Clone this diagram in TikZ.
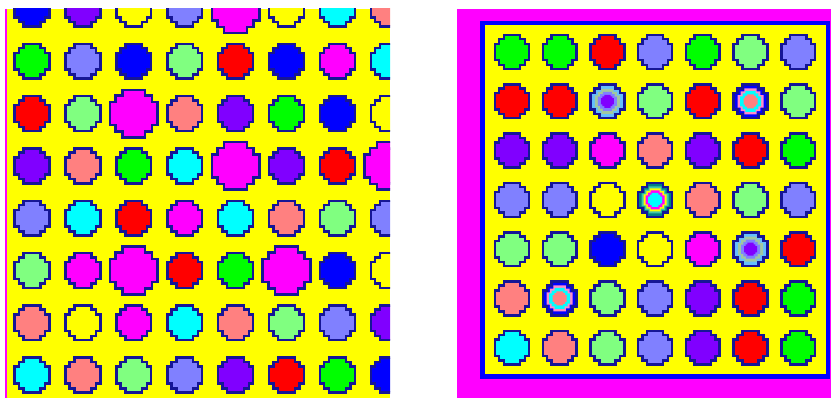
\documentclass[tikz,border=0pt]{standalone}
\usepackage{tikz}
\usetikzlibrary{calc}
\definecolor{rnavy}{RGB}{22,22,150}
\definecolor{rblue}{RGB}{0,0,255}
\definecolor{rpurple}{RGB}{128,0,255}
\definecolor{rslate}{RGB}{128,128,255}
\definecolor{rmagenta}{RGB}{255,0,255}
\definecolor{rcyan}{RGB}{0,255,255}
\definecolor{rsalmon}{RGB}{255,128,128}
\definecolor{rgreen}{RGB}{0,255,0}
\definecolor{rlgreen}{RGB}{128,255,128}
\definecolor{rred}{RGB}{255,0,0}
\definecolor{ryellow}{RGB}{255,255,0}
\definecolor{rsky}{RGB}{100,190,255}
\definecolor{rsage}{RGB}{160,200,160}
\definecolor{rpink}{RGB}{255,140,200}
\definecolor{rteal}{RGB}{0,128,128}
\definecolor{rsea}{RGB}{64,200,170}
\tikzset{
  rod/.style   = {draw=rnavy, line width=2.5pt, line join=miter},
  layer/.style = {draw=none},
  frame/.style = {draw=rblue, line width=4.5pt},
}
\newcommand\rodshape{(-0.48,1) -- (0.48,1) -- (0.48,0.76) -- (0.76,0.76) -- (0.76,0.48)
  -- (1,0.48) -- (1,-0.48) -- (0.76,-0.48) -- (0.76,-0.76) -- (0.48,-0.76) -- (0.48,-1)
  -- (-0.48,-1) -- (-0.48,-0.76) -- (-0.76,-0.76) -- (-0.76,-0.48) -- (-1,-0.48)
  -- (-1,0.48) -- (-0.76,0.48) -- (-0.76,0.76) -- (-0.48,0.76) -- cycle}
\newcommand\rod[4][17]{\path[rod, fill=#4, shift={(#2,#3)}, scale=#1] \rodshape;}
\newcommand\ring[4][10]{\path[layer, fill=#4, shift={(#2,#3)}, scale=#1] \rodshape;}

\begin{document}
\begin{tikzpicture}[x=1pt,y=-1pt]
  \useasboundingbox (0,0) rectangle (831,398);
  \fill[rmagenta] (5,9) rectangle (7,398);
  \begin{scope}
    \clip (7,9) rectangle (390,398);
    \fill[ryellow] (7,9) rectangle (390,398);
    \foreach \row [count=\j from 0] in {
        {rblue,rpurple,ryellow,rslate,rmagenta,ryellow,rcyan,rsalmon},
        {rgreen,rslate,rblue,rlgreen,rred,rblue,rmagenta,rcyan},
        {rred,rlgreen,rmagenta,rsalmon,rpurple,rgreen,rblue,ryellow},
        {rpurple,rsalmon,rgreen,rcyan,rmagenta,rpurple,rred,rmagenta},
        {rslate,rcyan,rred,rmagenta,rcyan,rsalmon,rlgreen,rslate},
        {rlgreen,rmagenta,rmagenta,rred,rgreen,rmagenta,rblue,ryellow},
        {rsalmon,ryellow,rmagenta,rcyan,rsalmon,rlgreen,rslate,rpurple},
        {rcyan,rsalmon,rlgreen,rslate,rpurple,rred,rgreen,rblue}}
      \foreach \c [count=\i from 0] in \row
        \rod[17.4]{32+50.9*\i}{9+52.3*\j}{\c};
    \foreach \i/\j in {4/0,2/2,4/3,7/3,2/5,5/5}
      \rod[23.8]{32+50.9*\i}{9+52.3*\j}{rmagenta};
  \end{scope}

  \fill[rmagenta] (457,9) rectangle (831,398);
  \fill[ryellow] (482,23) rectangle (828,377);
  \draw[frame] (482.25,23.25) rectangle (827.75,376.75);
  \foreach \row [count=\j from 0] in {
      {rgreen,rgreen,rred,rslate,rgreen,rlgreen,rslate},
      {rred,rred,rsky,rlgreen,rred,rblue,rlgreen},
      {rpurple,rpurple,rmagenta,rsalmon,rpurple,rred,rgreen},
      {rslate,rslate,ryellow,rteal,rsalmon,rlgreen,rslate},
      {rlgreen,rlgreen,rblue,ryellow,rmagenta,rsky,rred},
      {rsalmon,rblue,rlgreen,rslate,rpurple,rred,rgreen},
      {rcyan,rsalmon,rlgreen,rslate,rpurple,rred,rgreen}}
    \foreach \c [count=\i from 0] in \row
      \rod[16.9]{512+47.7*\i}{52+49.3*\j}{\c};
  \foreach \i/\j in {2/1,5/4} {
    \ring[12.5]{512+47.7*\i}{52+49.3*\j}{rsage}
    \ring[9.5]{512+47.7*\i}{52+49.3*\j}{rslate}
    \ring[6.5]{512+47.7*\i}{52+49.3*\j}{rpurple}
  }
  \foreach \i/\j in {5/1,1/5} {
    \ring[13]{512+47.7*\i}{52+49.3*\j}{rpink}
    \ring[10.5]{512+47.7*\i}{52+49.3*\j}{rcyan}
    \ring[7]{512+47.7*\i}{52+49.3*\j}{rsalmon}
  }
  \ring[13.5]{512+47.7*3}{52+49.3*3}{rsea}
  \ring[11.5]{512+47.7*3}{52+49.3*3}{ryellow}
  \ring[9.5]{512+47.7*3}{52+49.3*3}{rmagenta}
  \ring[7]{512+47.7*3}{52+49.3*3}{rcyan}
\end{tikzpicture}
\end{document}
